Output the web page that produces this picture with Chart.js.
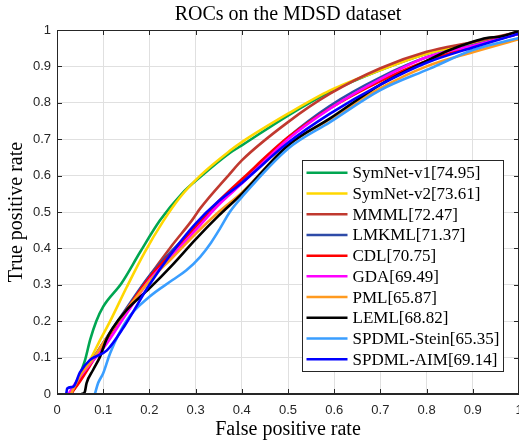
<!DOCTYPE html>
<html>
<head>
<meta charset="utf-8">
<script src="https://cdn.jsdelivr.net/npm/chart.js@4.4.0/dist/chart.umd.min.js"></script>
<style>
  html, body { margin: 0; padding: 0; background: #fff; }
  #wrap { width: 519px; height: 445px; }
</style>
</head>
<body>
<div id="wrap"><canvas id="roc" width="519" height="445"></canvas></div>
<script>
// tick labels
const xTickLabels = ['0', '0.1', '0.2', '0.3', '0.4', '0.5', '0.6', '0.7', '0.8', '0.9', '1'];
const yTickLabels = ['0', '0.1', '0.2', '0.3', '0.4', '0.5', '0.6', '0.7', '0.8', '0.9', '1'];

// legend entries (method[AUC])
const seriesNames = [
    'SymNet-v1[74.95]', 'SymNet-v2[73.61]', 'MMML[72.47]', 'LMKML[71.37]', 'CDL[70.75]',
    'GDA[69.49]', 'PML[65.87]', 'LEML[68.82]', 'SPDML-Stein[65.35]', 'SPDML-AIM[69.14]'
];
const seriesColors = [
    '#00A651', '#FFD700', '#C0392F', '#2E4BA8', '#FF0000',
    '#FF00FF', '#FF9A1F', '#000000', '#3A9EFF', '#0000FF'
];

// ROC points: false positive rate / true positive rate
const fprSymNetV1 = [0.03, 0.045, 0.06, 0.072, 0.085, 0.1, 0.14, 0.18, 0.223, 0.27, 0.31, 0.374, 0.4, 0.5, 0.591, 0.7, 0.8, 0.9, 1];
const tprSymNetV1 = [0, 0.04, 0.09, 0.15, 0.2, 0.24, 0.305, 0.39, 0.477, 0.55, 0.596, 0.662, 0.683, 0.765, 0.83, 0.89, 0.935, 0.965, 0.99];

const fprSymNetV2 = [0.03, 0.05, 0.07, 0.09, 0.115, 0.151, 0.19, 0.23, 0.266, 0.31, 0.374, 0.4, 0.5, 0.591, 0.7, 0.8, 0.9, 1];
const tprSymNetV2 = [0, 0.05, 0.09, 0.14, 0.2, 0.294, 0.39, 0.475, 0.54, 0.6, 0.668, 0.692, 0.77, 0.834, 0.89, 0.935, 0.965, 0.99];

const fprMMML = [0.03, 0.05, 0.08, 0.1, 0.15, 0.194, 0.25, 0.292, 0.31, 0.374, 0.4, 0.5, 0.591, 0.7, 0.8, 0.9, 1];
const tprMMML = [0, 0.04, 0.1, 0.14, 0.23, 0.313, 0.41, 0.477, 0.51, 0.605, 0.642, 0.747, 0.825, 0.895, 0.94, 0.967, 0.995];

const fprLMKML = [0.03, 0.05, 0.08, 0.1, 0.15, 0.2, 0.25, 0.3, 0.374, 0.4, 0.5, 0.591, 0.7, 0.8, 0.9, 1];
const tprLMKML = [0, 0.04, 0.1, 0.14, 0.235, 0.325, 0.395, 0.46, 0.555, 0.585, 0.705, 0.792, 0.87, 0.925, 0.958, 0.99];

const fprCDL = [0.03, 0.05, 0.08, 0.1, 0.15, 0.2, 0.25, 0.3, 0.35, 0.4, 0.5, 0.591, 0.7, 0.8, 0.9, 1];
const tprCDL = [0, 0.035, 0.095, 0.135, 0.23, 0.32, 0.39, 0.46, 0.53, 0.59, 0.705, 0.785, 0.86, 0.915, 0.955, 0.99];

const fprGDA = [0.025, 0.04, 0.07, 0.1, 0.15, 0.2, 0.25, 0.3, 0.35, 0.4, 0.5, 0.591, 0.7, 0.8, 0.9, 1];
const tprGDA = [0, 0.03, 0.08, 0.125, 0.22, 0.313, 0.38, 0.45, 0.52, 0.578, 0.7, 0.784, 0.865, 0.925, 0.957, 0.99];

const fprPML = [0.03, 0.05, 0.08, 0.1, 0.15, 0.2, 0.25, 0.3, 0.35, 0.4, 0.5, 0.591, 0.7, 0.8, 0.9, 1];
const tprPML = [0, 0.05, 0.1, 0.14, 0.23, 0.31, 0.375, 0.44, 0.5, 0.553, 0.683, 0.755, 0.84, 0.9, 0.939, 0.975];

const fprLEML = [0.053, 0.06, 0.064, 0.078, 0.093, 0.107, 0.12, 0.15, 0.2, 0.25, 0.3, 0.35, 0.4, 0.5, 0.591, 0.7, 0.8, 0.85, 0.9, 0.93, 0.96, 1];
const tprLEML = [0, 0.005, 0.03, 0.066, 0.102, 0.15, 0.18, 0.23, 0.29, 0.355, 0.425, 0.49, 0.55, 0.683, 0.757, 0.85, 0.915, 0.945, 0.968, 0.978, 0.982, 0.997];

const fprStein = [0.082, 0.089, 0.1, 0.115, 0.151, 0.2, 0.25, 0.28, 0.31, 0.333, 0.353, 0.374, 0.4, 0.5, 0.591, 0.7, 0.807, 0.9, 1];
const tprStein = [0, 0.03, 0.057, 0.112, 0.203, 0.267, 0.313, 0.34, 0.377, 0.415, 0.455, 0.5, 0.541, 0.674, 0.747, 0.835, 0.894, 0.945, 0.978];

const fprAIM = [0.02, 0.022, 0.035, 0.05, 0.071, 0.108, 0.145, 0.2, 0.25, 0.3, 0.35, 0.4, 0.5, 0.591, 0.7, 0.8, 0.9, 1];
const tprAIM = [0, 0.015, 0.02, 0.06, 0.093, 0.12, 0.185, 0.3, 0.39, 0.468, 0.53, 0.58, 0.69, 0.77, 0.85, 0.91, 0.952, 0.99];

const curves = [
    [fprSymNetV1, tprSymNetV1], [fprSymNetV2, tprSymNetV2], [fprMMML, tprMMML],
    [fprLMKML, tprLMKML], [fprCDL, tprCDL], [fprGDA, tprGDA], [fprPML, tprPML],
    [fprLEML, tprLEML], [fprStein, tprStein], [fprAIM, tprAIM]
];

const SERIF = '"Liberation Serif", "Times New Roman", Times, serif';
const SANS = '"Liberation Sans", Arial, Helvetica, sans-serif';
const AXIS_COLOR = '#262626';

// box edges (top/right) and inward ticks like the matlab axes
const frameBox = {
    id: 'frameBox',
    afterDatasetsDraw(chart) {
        const { ctx, chartArea: a, scales: { x, y } } = chart;
        ctx.save();
        ctx.strokeStyle = AXIS_COLOR;
        ctx.lineWidth = 1;
        ctx.beginPath();
        ctx.moveTo(a.left, a.top + 0.5);
        ctx.lineTo(a.right, a.top + 0.5);
        ctx.moveTo(a.right - 0.5, a.top);
        ctx.lineTo(a.right - 0.5, a.bottom);
        ctx.moveTo(a.left + 0.5, a.top);
        ctx.lineTo(a.left + 0.5, a.bottom);
        ctx.moveTo(a.left, a.bottom - 0.5);
        ctx.lineTo(a.right, a.bottom - 0.5);
        x.ticks.forEach(t => {
            const px = Math.round(x.getPixelForValue(t.value)) + 0.5;
            ctx.moveTo(px, a.bottom);
            ctx.lineTo(px, a.bottom - 5);
            ctx.moveTo(px, a.top);
            ctx.lineTo(px, a.top + 5);
        });
        y.ticks.forEach(t => {
            const py = Math.round(y.getPixelForValue(t.value)) + 0.5;
            ctx.moveTo(a.left, py);
            ctx.lineTo(a.left + 5, py);
            ctx.moveTo(a.right, py);
            ctx.lineTo(a.right - 5, py);
        });
        ctx.stroke();
        ctx.restore();
    }
};

// legend box drawn inside the plot, lower right
const boxLegend = {
    id: 'boxLegend',
    afterDraw(chart) {
        const { ctx, scales: { x, y } } = chart;
        const left = Math.round(x.getPixelForValue(0.53)) + 0.5;
        const right = Math.round(x.getPixelForValue(0.965)) + 0.5;
        const top = Math.round(y.getPixelForValue(0.642)) + 0.5;
        const bottom = Math.round(y.getPixelForValue(0.063)) + 0.5;
        const rowH = (bottom - top - 4) / seriesNames.length;

        ctx.save();
        ctx.fillStyle = '#fff';
        ctx.fillRect(left, top, right - left, bottom - top);
        ctx.strokeStyle = AXIS_COLOR;
        ctx.lineWidth = 1;
        ctx.strokeRect(left, top, right - left, bottom - top);

        ctx.font = '17px ' + SERIF;
        ctx.textBaseline = 'middle';
        ctx.textAlign = 'left';
        seriesNames.forEach((name, i) => {
            const cy = top + 2 + rowH * (i + 0.5);
            ctx.strokeStyle = seriesColors[i];
            ctx.lineWidth = 2.5;
            ctx.beginPath();
            ctx.moveTo(left + 4, cy);
            ctx.lineTo(left + 45, cy);
            ctx.stroke();
            ctx.fillStyle = '#000';
            ctx.fillText(name, left + 50, cy + 1);
        });
        ctx.restore();
    }
};

const datasets = seriesNames.map((name, i) => ({
    label: name,
    data: curves[i][0].map((fx, k) => ({ x: fx, y: curves[i][1][k] })),
    showLine: true,
    borderColor: seriesColors[i],
    backgroundColor: seriesColors[i],
    borderWidth: 2.6,
    pointRadius: 0,
    cubicInterpolationMode: 'monotone',
    order: seriesNames.length - i
}));

new Chart(document.getElementById('roc'), {
    type: 'scatter',
    data: { datasets },
    options: {
        responsive: false,
        animation: false,
        layout: { padding: 0 },
        plugins: {
            legend: { display: false },
            tooltip: { enabled: false },
            title: {
                display: true,
                fullSize: false,
                text: 'ROCs on the MDSD dataset',
                color: '#000',
                font: { family: SERIF, size: 20, weight: 'normal' },
                padding: { top: 3, bottom: 3 }
            }
        },
        scales: {
            x: {
                type: 'linear',
                min: 0,
                max: 1,
                ticks: {
                    stepSize: 0.1,
                    maxRotation: 0,
                    padding: 9,
                    color: AXIS_COLOR,
                    font: { family: SANS, size: 13 },
                    callback: (v, i) => xTickLabels[i]
                },
                grid: { color: '#e0e0e0', drawTicks: false },
                border: { color: AXIS_COLOR },
                title: {
                    display: true,
                    text: 'False positive rate',
                    color: '#000',
                    font: { family: SERIF, size: 20 },
                    padding: { top: 0, bottom: 3 }
                },
                afterFit: (scale) => {
                    scale.height = 51;
                    scale.paddingLeft = 0;
                    scale.paddingRight = 0;
                }
            },
            y: {
                type: 'linear',
                min: 0,
                max: 1,
                ticks: {
                    stepSize: 0.1,
                    padding: 6,
                    color: AXIS_COLOR,
                    font: { family: SANS, size: 13 },
                    callback: (v, i) => yTickLabels[i]
                },
                grid: { color: '#e0e0e0', drawTicks: false },
                border: { color: AXIS_COLOR },
                title: {
                    display: true,
                    text: 'True positive rate',
                    color: '#000',
                    font: { family: SERIF, size: 20 },
                    padding: { top: 5, bottom: 0 }
                },
                afterFit: (scale) => {
                    scale.width = 57;
                    scale.paddingTop = 0;
                    scale.paddingBottom = 0;
                }
            }
        }
    },
    plugins: [frameBox, boxLegend]
});
</script>
</body>
</html>
